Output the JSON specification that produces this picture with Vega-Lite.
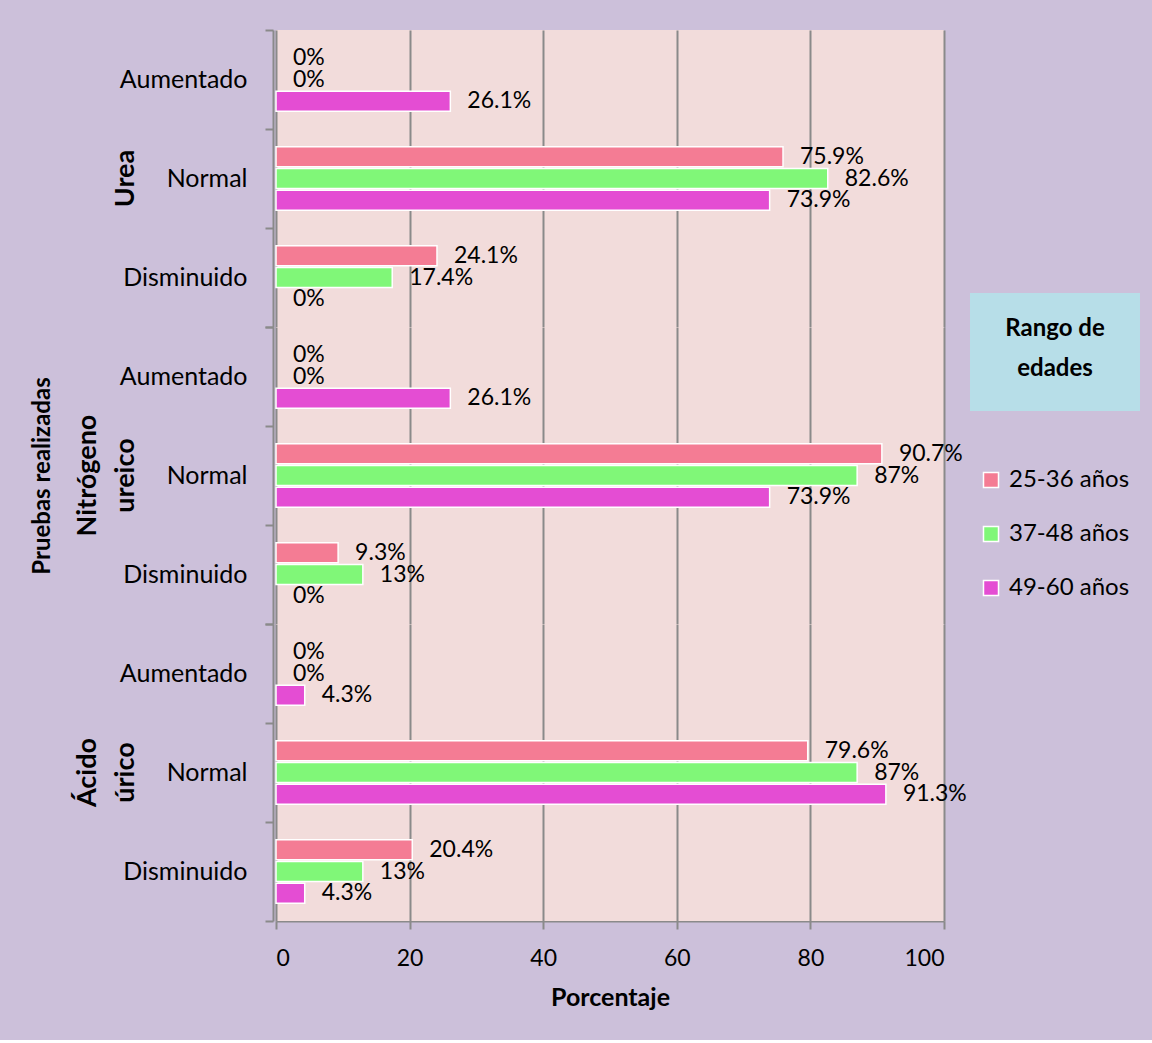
{
  "$schema": "https://vega.github.io/schema/vega-lite/v6.json",
  "background": "#CCC0DA",
  "padding": {"left": 30, "top": 18, "right": 14, "bottom": 30},
  "data": {
    "values": [
      {"prueba": "Urea", "nivel": "Aumentado", "edad": "25-36 años", "porcentaje": 0},
      {"prueba": "Urea", "nivel": "Aumentado", "edad": "37-48 años", "porcentaje": 0},
      {"prueba": "Urea", "nivel": "Aumentado", "edad": "49-60 años", "porcentaje": 26.1},
      {"prueba": "Urea", "nivel": "Normal", "edad": "25-36 años", "porcentaje": 75.9},
      {"prueba": "Urea", "nivel": "Normal", "edad": "37-48 años", "porcentaje": 82.6},
      {"prueba": "Urea", "nivel": "Normal", "edad": "49-60 años", "porcentaje": 73.9},
      {"prueba": "Urea", "nivel": "Disminuido", "edad": "25-36 años", "porcentaje": 24.1},
      {"prueba": "Urea", "nivel": "Disminuido", "edad": "37-48 años", "porcentaje": 17.4},
      {"prueba": "Urea", "nivel": "Disminuido", "edad": "49-60 años", "porcentaje": 0},
      {"prueba": "Nitrógeno ureico", "nivel": "Aumentado", "edad": "25-36 años", "porcentaje": 0},
      {"prueba": "Nitrógeno ureico", "nivel": "Aumentado", "edad": "37-48 años", "porcentaje": 0},
      {"prueba": "Nitrógeno ureico", "nivel": "Aumentado", "edad": "49-60 años", "porcentaje": 26.1},
      {"prueba": "Nitrógeno ureico", "nivel": "Normal", "edad": "25-36 años", "porcentaje": 90.7},
      {"prueba": "Nitrógeno ureico", "nivel": "Normal", "edad": "37-48 años", "porcentaje": 87},
      {"prueba": "Nitrógeno ureico", "nivel": "Normal", "edad": "49-60 años", "porcentaje": 73.9},
      {"prueba": "Nitrógeno ureico", "nivel": "Disminuido", "edad": "25-36 años", "porcentaje": 9.3},
      {"prueba": "Nitrógeno ureico", "nivel": "Disminuido", "edad": "37-48 años", "porcentaje": 13},
      {"prueba": "Nitrógeno ureico", "nivel": "Disminuido", "edad": "49-60 años", "porcentaje": 0},
      {"prueba": "Ácido úrico", "nivel": "Aumentado", "edad": "25-36 años", "porcentaje": 0},
      {"prueba": "Ácido úrico", "nivel": "Aumentado", "edad": "37-48 años", "porcentaje": 0},
      {"prueba": "Ácido úrico", "nivel": "Aumentado", "edad": "49-60 años", "porcentaje": 4.3},
      {"prueba": "Ácido úrico", "nivel": "Normal", "edad": "25-36 años", "porcentaje": 79.6},
      {"prueba": "Ácido úrico", "nivel": "Normal", "edad": "37-48 años", "porcentaje": 87},
      {"prueba": "Ácido úrico", "nivel": "Normal", "edad": "49-60 años", "porcentaje": 91.3},
      {"prueba": "Ácido úrico", "nivel": "Disminuido", "edad": "25-36 años", "porcentaje": 20.4},
      {"prueba": "Ácido úrico", "nivel": "Disminuido", "edad": "37-48 años", "porcentaje": 13},
      {"prueba": "Ácido úrico", "nivel": "Disminuido", "edad": "49-60 años", "porcentaje": 4.3}
    ]
  },
  "transform": [
    {"calculate": "format(datum.porcentaje, '.1~f') + '%'", "as": "etiqueta"}
  ],
  "facet": {
    "row": {
      "field": "prueba",
      "type": "nominal",
      "sort": ["Urea", "Nitrógeno ureico", "Ácido úrico"],
      "title": "Pruebas realizadas",
      "header": {
        "labelExpr": "split(datum.value, ' ')",
        "labelFont": "Lato",
        "labelFontSize": 27,
        "labelFontWeight": "bold",
        "labelColor": "black",
        "labelAngle": -90,
        "labelOrient": "left",
        "labelAlign": "center",
        "labelBaseline": "middle",
        "labelLineHeight": 38,
        "labelPadding": -34,
        "titleFont": "Lato",
        "titleFontSize": 24,
        "titleFontWeight": "bold",
        "titleColor": "black",
        "titleOrient": "left",
        "titleAngle": -90,
        "titlePadding": -15
      }
    }
  },
  "spacing": 0,
  "spec": {
    "width": 668,
    "height": 297,
    "encoding": {
      "y": {
        "field": "nivel",
        "type": "nominal",
        "sort": ["Aumentado", "Normal", "Disminuido"],
        "scale": {"paddingInner": 0, "paddingOuter": 0},
        "title": null,
        "axis": {
          "tickBand": "extent",
          "grid": false,
          "domainColor": "#8A8A8A",
          "domainWidth": 2,
          "tickColor": "#8A8A8A",
          "tickWidth": 2,
          "tickSize": 8,
          "labelFont": "Lato",
          "labelFontSize": 25,
          "labelColor": "black",
          "labelPadding": 18
        }
      },
      "yOffset": {
        "field": "edad",
        "type": "nominal",
        "sort": ["25-36 años", "37-48 años", "49-60 años"],
        "scale": {"paddingInner": 0.08, "paddingOuter": 0.82}
      },
      "x": {
        "field": "porcentaje",
        "type": "quantitative",
        "scale": {"domain": [0, 100], "nice": false},
        "title": "Porcentaje",
        "axis": {
          "values": [0, 20, 40, 60, 80, 100],
          "grid": true,
          "gridColor": "#8A8A8A",
          "gridWidth": 2,
          "domainColor": "#8A8A8A",
          "domainWidth": 2,
          "tickColor": "#8A8A8A",
          "tickWidth": 2,
          "tickSize": 8,
          "labelFont": "Lato",
          "labelFontSize": 23,
          "labelColor": "black",
          "labelPadding": 18,
          "titleFont": "Lato",
          "titleFontSize": 25,
          "titleFontWeight": "bold",
          "titleColor": "black",
          "titlePadding": 15
        }
      }
    },
    "layer": [
      {
        "mark": {"type": "bar", "stroke": "white"},
        "encoding": {
          "strokeWidth": {"condition": {"test": "datum.porcentaje == 0", "value": 0}, "value": 1.5},
          "fill": {
            "field": "edad",
            "type": "nominal",
            "scale": {
              "domain": ["25-36 años", "37-48 años", "49-60 años"],
              "range": ["#F47C94", "#80F778", "#E44DD3"]
            },
            "legend": {
              "orient": "none",
              "legendX": 703,
              "legendY": 438,
              "title": null,
              "padding": 0,
              "symbolType": "square",
              "symbolSize": 225,
              "symbolStrokeColor": "white",
              "symbolStrokeWidth": 1.5,
              "symbolOpacity": 1,
              "labelFont": "Lato",
              "labelFontSize": 24,
              "labelColor": "black",
              "labelOffset": 6,
              "rowPadding": 30
            }
          }
        }
      },
      {
        "mark": {"type": "text", "align": "left", "baseline": "middle", "dx": 17, "font": "Lato", "fontSize": 23, "color": "black"},
        "encoding": {"text": {"field": "etiqueta"}}
      },
      {
        "mark": {"type": "point", "opacity": 0},
        "encoding": {
          "shape": {
            "field": "prueba",
            "type": "nominal",
            "legend": {
              "orient": "none",
              "legendX": 694,
              "legendY": 263,
              "title": ["Rango de", "edades"],
              "titleFont": "Lato",
              "titleFontSize": 24,
              "titleFontWeight": "bold",
              "titleColor": "black",
              "titleAnchor": "middle",
              "titleAlign": "center",
              "titleLineHeight": 40,
              "titlePadding": 5,
              "fillColor": "#B7DEE8",
              "padding": 24,
              "values": ["Urea", "Ácido úrico"],
              "direction": "horizontal",
              "columns": 2,
              "columnPadding": 112,
              "symbolSize": 0,
              "symbolOpacity": 0,
              "symbolStrokeWidth": 0,
              "labelExpr": "''",
              "labelFontSize": 1
            }
          }
        }
      }
    ]
  },
  "config": {
    "font": "Lato",
    "view": {"fill": "#F2DCDB", "stroke": null}
  }
}
